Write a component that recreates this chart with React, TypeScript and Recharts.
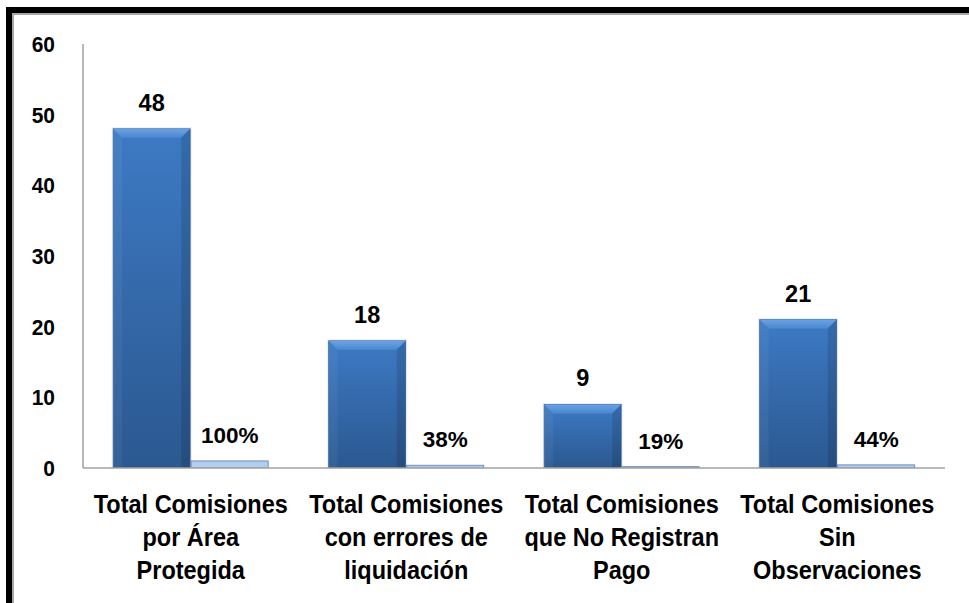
import React from "react";
import { BarChart, Bar, XAxis, YAxis, LabelList } from "recharts";

const categories = [
  "Total Comisiones\npor Área\nProtegida",
  "Total Comisiones\ncon errores de\nliquidación",
  "Total Comisiones\nque No Registran\nPago",
  "Total Comisiones\nSin\nObservaciones",
];
const counts = [48, 18, 9, 21];
const percents = [1, 0.38, 0.19, 0.44];
const yTicks = [0, 10, 20, 30, 40, 50, 60];

const data = categories.map((name, i) => ({ name, count: counts[i], pct: percents[i] }));

const FONT = "'Liberation Sans', Arial, sans-serif";

const BevelBar = (props: any) => {
  const { x, y, width, height } = props;
  if (!height || height <= 0) return null;
  const b = Math.min(9, width / 4, height / 2);
  return (
    <g>
      <rect x={x - 1} y={y - 1} width={width + 2} height={height + 1} fill="none" stroke="rgba(0,0,0,0.08)" strokeWidth={1} />
      <rect x={x} y={y} width={width} height={height} fill="url(#bodyGrad)" stroke="#36639c" strokeWidth={0.8} />
      <polygon
        points={`${x},${y} ${x + width},${y} ${x + width - b},${y + b} ${x + b},${y + b}`}
        fill="url(#topGrad)"
      />
      <polygon
        points={`${x},${y} ${x + b},${y + b} ${x + b},${y + height} ${x},${y + height}`}
        fill="rgba(255,255,255,0.05)"
      />
      <polygon
        points={`${x + width},${y} ${x + width - b},${y + b} ${x + width - b},${y + height} ${x + width},${y + height}`}
        fill="rgba(0,0,0,0.12)"
      />
    </g>
  );
};

const PctBar = (props: any) => {
  const { x, y, width, height } = props;
  if (!height || height <= 0) return null;
  return (
    <g>
      <rect x={x} y={y} width={width} height={height} fill="#b3cdee" stroke="#6f8fbf" strokeWidth={1} />
    </g>
  );
};

const XTick = (props: any) => {
  const { x, y, payload } = props;
  const lines = String(payload.value).split("\n");
  return (
    <g transform={`translate(${x},${y}) scale(0.94,1)`}>
      <text x={0} y={0} textAnchor="middle" fontFamily={FONT} fontWeight="bold" fontSize={25} fill="#000">
        {lines.map((l, i) => (
          <tspan key={i} x={0} dy={i === 0 ? 45 : 33}>
            {l}
          </tspan>
        ))}
      </text>
    </g>
  );
};

const YTick = (props: any) => {
  const { x, y, payload } = props;
  return (
    <g transform={`translate(${x},${y}) scale(0.93,1)`}>
      <text x={0} y={0} dy={8} textAnchor="end" fontFamily={FONT} fontWeight="bold" fontSize={22.5} fill="#000">
        {payload.value}
      </text>
    </g>
  );
};

export default function App() {
  return (
    <div style={{ position: "fixed", left: 0, top: 0, width: 969, height: 603, background: "#fff", overflow: "hidden" }}>
      <BarChart
        width={969}
        height={603}
        data={data}
        margin={{ top: 44, right: 24, bottom: 0, left: 0 }}
        barCategoryGap="14%"
        barGap={1}
      >
        <defs>
          <linearGradient id="bodyGrad" x1="0" y1="0" x2="0" y2="1">
            <stop offset="0%" stopColor="#3d7ac4" />
            <stop offset="100%" stopColor="#2b5890" />
          </linearGradient>
          <linearGradient id="topGrad" x1="0" y1="0" x2="0" y2="1">
            <stop offset="0%" stopColor="#6aa2e4" />
            <stop offset="100%" stopColor="#4b87d0" />
          </linearGradient>
        </defs>
        <XAxis
          dataKey="name"
          height={135}
          tick={<XTick />}
          tickLine={false}
          tickSize={0}
          tickMargin={0}
          axisLine={{ stroke: "#a0a0a0", strokeWidth: 1.5 }}
          interval={0}
        />
        <YAxis
          width={83}
          domain={[0, 60]}
          ticks={yTicks}
          tickLine={false}
          tickSize={0}
          tickMargin={28}
          axisLine={{ stroke: "#a0a0a0", strokeWidth: 1.5 }}
          tick={<YTick />}
          allowDataOverflow
        />
        <Bar dataKey="count" shape={<BevelBar />} isAnimationActive={false}>
          <LabelList
            dataKey="count"
            position="top"
            offset={18}
            style={{ fontFamily: FONT, fontWeight: "bold", fontSize: 23.5, fill: "#000" }}
          />
        </Bar>
        <Bar dataKey="pct" shape={<PctBar />} isAnimationActive={false}>
          <LabelList
            dataKey="pct"
            position="top"
            offset={18}
            formatter={(v: any) => `${Math.round(Number(v) * 100)}%`}
            style={{ fontFamily: FONT, fontWeight: "bold", fontSize: 22.5, fill: "#000" }}
          />
        </Bar>
      </BarChart>
      <div style={{ position: "absolute", left: 6, top: 7, width: 963, height: 6, background: "#000" }} />
      <div style={{ position: "absolute", left: 12, top: 13, width: 957, height: 2, background: "#a6a6a6" }} />
      <div style={{ position: "absolute", left: 6, top: 7, width: 6, height: 596, background: "#000" }} />
      <div style={{ position: "absolute", left: 12, top: 13, width: 2, height: 590, background: "#a6a6a6" }} />
    </div>
  );
}
